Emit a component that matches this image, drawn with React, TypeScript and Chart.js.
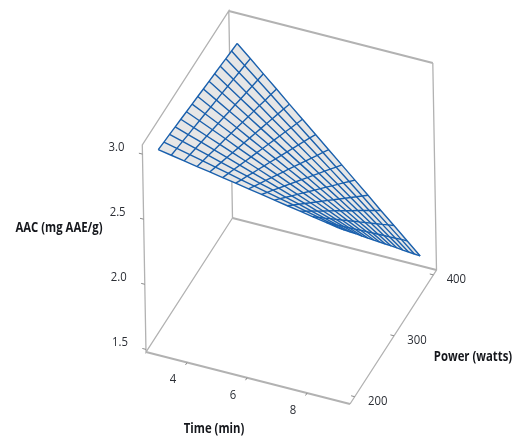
import React, { useEffect, useRef } from "react";
import { Chart, registerables } from "chart.js";

Chart.register(...registerables);

const timeValues = [3, 3.43, 3.86, 4.29, 4.71, 5.14, 5.57, 6, 6.43, 6.86, 7.29, 7.71, 8.14, 8.57, 9];
const powerValues = [200, 214.3, 228.6, 242.9, 257.1, 271.4, 285.7, 300, 314.3, 328.6, 342.9, 357.1, 371.4, 385.7, 400];
// AAC, one row per power value, one column per time value
const aacRows = [
  [3.000, 2.982, 2.964, 2.946, 2.929, 2.911, 2.893, 2.875, 2.857, 2.839, 2.821, 2.804, 2.786, 2.768, 2.750],
  [2.991, 2.968, 2.945, 2.922, 2.899, 2.876, 2.852, 2.829, 2.806, 2.783, 2.760, 2.737, 2.714, 2.691, 2.668],
  [2.983, 2.955, 2.926, 2.898, 2.869, 2.841, 2.813, 2.784, 2.756, 2.727, 2.699, 2.671, 2.642, 2.614, 2.586],
  [2.974, 2.940, 2.907, 2.873, 2.840, 2.806, 2.772, 2.739, 2.705, 2.671, 2.638, 2.604, 2.571, 2.537, 2.504],
  [2.966, 2.927, 2.888, 2.849, 2.810, 2.771, 2.733, 2.694, 2.655, 2.616, 2.577, 2.538, 2.499, 2.460, 2.421],
  [2.957, 2.913, 2.869, 2.825, 2.780, 2.736, 2.692, 2.648, 2.604, 2.560, 2.516, 2.472, 2.427, 2.383, 2.339],
  [2.949, 2.900, 2.850, 2.801, 2.751, 2.702, 2.653, 2.603, 2.554, 2.504, 2.455, 2.406, 2.356, 2.307, 2.257],
  [2.940, 2.885, 2.831, 2.776, 2.721, 2.667, 2.612, 2.558, 2.503, 2.448, 2.394, 2.339, 2.284, 2.230, 2.175],
  [2.931, 2.871, 2.811, 2.751, 2.691, 2.632, 2.572, 2.512, 2.452, 2.392, 2.332, 2.272, 2.212, 2.153, 2.093],
  [2.923, 2.858, 2.793, 2.727, 2.662, 2.597, 2.532, 2.467, 2.402, 2.337, 2.271, 2.206, 2.141, 2.076, 2.011],
  [2.914, 2.844, 2.773, 2.703, 2.632, 2.562, 2.492, 2.421, 2.351, 2.280, 2.210, 2.140, 2.069, 1.999, 1.929],
  [2.906, 2.830, 2.755, 2.679, 2.603, 2.528, 2.452, 2.376, 2.301, 2.225, 2.149, 2.074, 1.998, 1.922, 1.846],
  [2.897, 2.816, 2.735, 2.654, 2.573, 2.492, 2.412, 2.331, 2.250, 2.169, 2.088, 2.007, 1.926, 1.845, 1.764],
  [2.889, 2.803, 2.717, 2.630, 2.544, 2.458, 2.372, 2.286, 2.199, 2.113, 2.027, 1.941, 1.855, 1.769, 1.682],
  [2.880, 2.789, 2.697, 2.606, 2.514, 2.423, 2.331, 2.240, 2.149, 2.057, 1.966, 1.874, 1.783, 1.691, 1.600],
];

const timeTicks = [4, 6, 8];
const powerTicks = [200, 300, 400];
const aacTicks = [1.5, 2.0, 2.5, 3.0];
const timeRange = [2.63, 9.43];
const powerRange = [188, 408];
const aacRange = [1.48, 3.07];
const titles = { time: "Time (min)", power: "Power (watts)", aac: "AAC (mg AAE/g)" };

const WIDTH = 513;
const HEIGHT = 438;

// Oblique view of the value cube on the flat chart plane
function project(t: number, p: number, z: number) {
  const u = (t - timeRange[0]) / (timeRange[1] - timeRange[0]);
  const v = (p - powerRange[0]) / (powerRange[1] - powerRange[0]);
  const w = (z - aacRange[0]) / (aacRange[1] - aacRange[0]);
  return {
    x: 146 + 204 * u + 86.5 * v - 3.7 * w,
    y: 352 + 52 * u - 134 * v - 207 * w,
  };
}

const [t0, t1] = timeRange;
const [p0, p1] = powerRange;
const [z0, z1] = aacRange;

const heavyBoxPaths = [
  [[t0, p0, z0], [t1, p0, z0]],
  [[t0, p1, z0], [t1, p1, z0]],
  [[t0, p1, z1], [t1, p1, z1]],
];
const lightBoxPaths = [
  [[t1, p0, z0], [t1, p1, z0], [t1, p1, z1]],
  [[t0, p1, z0], [t0, p0, z0], [t0, p0, z1], [t0, p1, z1], [t0, p1, z0]],
];

const tickPaths = [
  ...aacTicks.map((z) => [[t0, p0, z], [t0 - 0.12, p0, z]]),
  ...timeTicks.map((t) => [[t, p0, z0], [t, p0 - 4, z0]]),
  ...powerTicks.map((p) => [[t1, p, z0], [t1 - 0.12, p, z0]]),
];

function lineSet(points: { x: number; y: number }[], color: string, width: number, extra: object = {}) {
  return { data: points, showLine: true, borderColor: color, borderWidth: width, pointRadius: 0, fill: false, tension: 0, ...extra };
}

const LINE_BLUE = "#1a60ad";
const BOX_GREY = "#b2b2b2";

export default function App() {
  const ref = useRef<HTMLCanvasElement | null>(null);

  useEffect(() => {
    if (!ref.current) return;
    const last = timeValues.length - 1;
    const outline = [
      ...timeValues.map((t, j) => project(t, powerValues[0], aacRows[0][j])),
      ...powerValues.map((p, i) => project(timeValues[last], p, aacRows[i][last])),
      ...timeValues.map((t, j) => project(t, powerValues[last], aacRows[last][j])).reverse(),
      ...powerValues.map((p, i) => project(timeValues[0], p, aacRows[i][0])).reverse(),
    ];
    const rowLines = powerValues.map((p, i) => timeValues.map((t, j) => project(t, p, aacRows[i][j])));
    const colLines = timeValues.map((t, j) => powerValues.map((p, i) => project(t, p, aacRows[i][j])));

    const labelPlugin = {
      id: "cubeLabels",
      afterDatasetsDraw(chart: Chart) {
        const { ctx, scales } = chart;
        const px = (x: number) => scales.x.getPixelForValue(x);
        const py = (y: number) => scales.y.getPixelForValue(y);
        // Narrowed text, as in the reference's condensed face
        const put = (text: string, x: number, y: number) => {
          ctx.save();
          ctx.translate(px(x), py(y));
          ctx.scale(0.84, 1);
          ctx.fillText(text, 0, 0);
          ctx.restore();
        };
        ctx.save();
        ctx.textAlign = "center";
        ctx.textBaseline = "middle";
        ctx.fillStyle = "#2b2e35";
        ctx.font = '13.5px "Open Sans"';
        aacTicks.forEach((z) => {
          const a = project(t0, p0, z);
          put(z.toFixed(1), a.x - 26, a.y - 7);
        });
        timeTicks.forEach((t) => {
          const a = project(t, p0, z0);
          put(String(t), a.x - 14, a.y + 17);
        });
        powerTicks.forEach((p) => {
          const a = project(t1, p, z0);
          put(String(p), a.x + 23, a.y + 4);
        });
        ctx.fillStyle = "#15171c";
        ctx.font = 'bold 13.5px "Open Sans"';
        put(titles.time, 214, 429);
        put(titles.power, 473, 357);
        put(titles.aac, 59, 228);
        ctx.restore();
      },
    };

    const chart = new Chart(ref.current, {
      type: "scatter",
      data: {
        datasets: [
          ...rowLines.map((pts) => lineSet(pts, LINE_BLUE, 1.4)),
          ...colLines.map((pts) => lineSet(pts, LINE_BLUE, 1.4)),
          lineSet(outline, "rgba(0,0,0,0)", 0, { fill: "shape", backgroundColor: "#e6e6e6" }),
          ...tickPaths.map((path) => lineSet(path.map(([t, p, z]) => project(t, p, z)), "#8a8a8a", 1)),
          ...heavyBoxPaths.map((path) => lineSet(path.map(([t, p, z]) => project(t, p, z)), BOX_GREY, 2)),
          ...lightBoxPaths.map((path) => lineSet(path.map(([t, p, z]) => project(t, p, z)), BOX_GREY, 1.3)),
        ],
      },
      options: {
        responsive: false,
        animation: false,
        layout: { padding: 0 },
        plugins: { legend: { display: false }, tooltip: { enabled: false }, title: { display: false } },
        scales: {
          x: { type: "linear", display: false, min: 0, max: WIDTH },
          y: { type: "linear", display: false, min: 0, max: HEIGHT, reverse: true },
        },
      },
      plugins: [labelPlugin],
    } as any);
    return () => chart.destroy();
  }, []);

  return (
    <div style={{ position: "absolute", left: 0, top: 0, width: WIDTH, height: HEIGHT, background: "#fff" }}>
      <canvas ref={ref} width={WIDTH} height={HEIGHT} style={{ display: "block", filter: "blur(0.5px)" }} />
    </div>
  );
}
